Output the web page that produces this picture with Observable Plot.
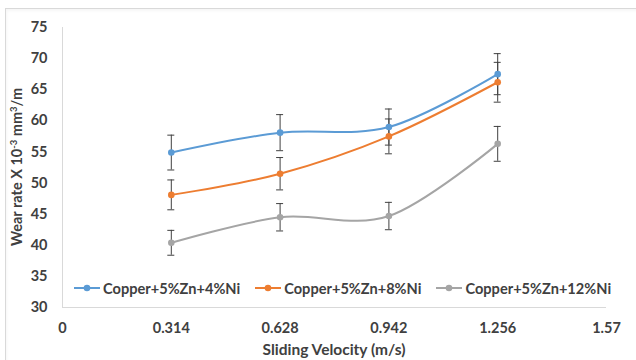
<!DOCTYPE html>
<html><head><meta charset="utf-8">
<script src="https://cdn.jsdelivr.net/npm/d3@7"></script>
<script src="https://cdn.jsdelivr.net/npm/@observablehq/plot@0.6"></script>
<style>
html,body{margin:0;padding:0;background:#fff;overflow:hidden;}
#wrap{position:relative;width:636px;height:360px;font-family:Lato,"Liberation Sans",sans-serif;font-weight:bold;color:#404040;}
#border{position:absolute;left:5px;top:8px;width:700px;height:400px;border-top:1px solid #d9d9d9;border-left:1px solid #d9d9d9;box-shadow:inset 1px 2px 3px rgba(0,0,0,0.04);}
#chart{position:absolute;left:0;top:0;}
#legend{position:absolute;top:279px;left:74px;display:flex;align-items:center;gap:15px;font-size:14.6px;height:18px;}
.item{display:flex;align-items:center;gap:3px;white-space:nowrap;}
</style></head>
<body><div id="wrap"><div id="border"></div><div id="chart"></div><div id="legend"></div></div>
<script>
const velocity = [0.314, 0.628, 0.942, 1.256];
const seriesNames = ["Copper+5%Zn+4%Ni", "Copper+5%Zn+8%Ni", "Copper+5%Zn+12%Ni"];
const wear4 = [54.9, 58.1, 59.0, 67.5];
const err4 = [2.8, 2.9, 2.9, 3.3];
const wear8 = [48.1, 51.5, 57.5, 66.2];
const err8 = [2.4, 2.6, 2.8, 3.2];
const wear12 = [40.4, 44.5, 44.7, 56.3];
const err12 = [2.0, 2.2, 2.2, 2.8];
const xTicks = [0, 0.314, 0.628, 0.942, 1.256, 1.57];
const yTicks = [30, 35, 40, 45, 50, 55, 60, 65, 70, 75];
const colors = ["#5B9BD5", "#ED7D31", "#A5A5A5"];

const wearSets = [wear4, wear8, wear12];
const errSets = [err4, err8, err12];
const rows = [];
seriesNames.forEach((s, i) => velocity.forEach((v, j) => rows.push({series: s, x: v, y: wearSets[i][j], err: errSets[i][j]})));

const barColor = "#404040";
const chart = Plot.plot({
  width: 636, height: 360,
  marginLeft: 62, marginRight: 30, marginTop: 27, marginBottom: 53,
  style: {fontFamily: "Lato, 'Liberation Sans', sans-serif", fontSize: "14.5px", fontWeight: "bold", color: "#404040", background: "transparent", overflow: "visible"},
  x: {domain: [0, 1.57]},
  y: {domain: [30, 75]},
  color: {domain: seriesNames, range: colors},
  marks: [
    Plot.axisY({ticks: yTicks, tickSize: 0, tickPadding: 15, label: null}),
    Plot.axisX({ticks: xTicks, tickSize: 0, tickPadding: 15, tickFormat: d => String(d), label: null}),
    Plot.ruleX([0], {stroke: "#d9d9d9"}),
    Plot.ruleY([30], {stroke: "#d9d9d9"}),
    Plot.ruleX(rows, {x: "x", y1: d => d.y - d.err, y2: d => d.y + d.err, stroke: barColor, strokeWidth: 1}),
    Plot.ruleY(rows, {y: d => d.y + d.err, x1: "x", x2: "x", insetLeft: -3.5, insetRight: -3.5, stroke: barColor, strokeWidth: 1}),
    Plot.ruleY(rows, {y: d => d.y - d.err, x1: "x", x2: "x", insetLeft: -3.5, insetRight: -3.5, stroke: barColor, strokeWidth: 1}),
    Plot.line(rows, {x: "x", y: "y", z: "series", stroke: "series", curve: "cardinal", strokeWidth: 2}),
    Plot.dot(rows, {x: "x", y: "y", fill: "series", r: 3.3})
  ]
});
document.getElementById("chart").appendChild(chart);

const svg = d3.select(chart);
const yt = svg.append("text")
  .attr("transform", "translate(22,167) rotate(-90)")
  .attr("text-anchor", "middle")
  .attr("fill", "#404040")
  .style("font-size", "14.5px").style("font-weight", "bold");
yt.append("tspan").text("Wear rate X 10");
yt.append("tspan").attr("baseline-shift", "super").style("font-size", "9.5px").text("-3");
yt.append("tspan").text(" mm");
yt.append("tspan").attr("baseline-shift", "super").style("font-size", "9.5px").text("3");
yt.append("tspan").text("/m");
svg.append("text")
  .attr("x", 334).attr("y", 355)
  .attr("text-anchor", "middle")
  .attr("fill", "#404040")
  .style("font-size", "15.5px").style("font-weight", "bold")
  .text("Sliding Velocity (m/s)");

const legend = d3.select("#legend");
seriesNames.forEach((s, i) => {
  const it = legend.append("div").attr("class", "item");
  const sw = it.append("svg").attr("width", 26).attr("height", 10);
  sw.append("line").attr("x1", 0).attr("x2", 26).attr("y1", 5).attr("y2", 5).attr("stroke", colors[i]).attr("stroke-width", 2);
  sw.append("circle").attr("cx", 13).attr("cy", 5).attr("r", 3.3).attr("fill", colors[i]);
  it.append("span").text(s);
});
</script>
</body></html>
